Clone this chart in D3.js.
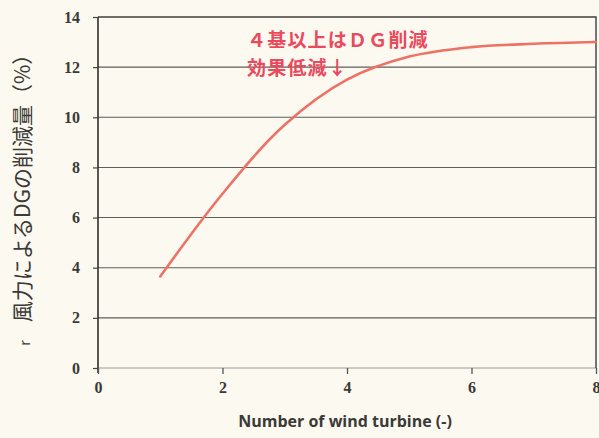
<!DOCTYPE html>
<html>
<head>
<meta charset="utf-8">
<script src="https://cdn.jsdelivr.net/npm/d3@7"></script>
<style>
  html, body { margin: 0; padding: 0; background: #fcf9f1; }
  svg { display: block; }
</style>
</head>
<body>
<svg id="chart" width="599" height="438"></svg>
<script>
// Number of wind turbines and the resulting DG reduction (%)
const turbines = [1, 2, 3, 4, 5, 6, 7, 8];
const reduction = [3.65, 6.95, 9.7, 11.5, 12.42, 12.8, 12.93, 13.0];
const xTicks = [0, 2, 4, 6, 8];
const yTicks = [0, 2, 4, 6, 8, 10, 12, 14];

const xTitle = "Number of wind turbine (-)";
const yTitle = "風力によるDGの削減量（%）";
const note = ["４基以上はＤＧ削減", "効果低減↓"];

const svg = d3.select("#chart");
const W = 599, H = 438;
const m = { left: 98, right: 3, top: 17, bottom: 70 };

svg.append("rect").attr("width", W).attr("height", H).attr("fill", "#fcf9f1");

const x = d3.scaleLinear().domain([0, 8]).range([m.left, W - m.right]);
const y = d3.scaleLinear().domain([0, 14]).range([H - m.bottom, m.top]);

const tickFont = "'Liberation Serif', 'DejaVu Serif', serif";

// horizontal gridlines
svg.append("g")
  .selectAll("line")
  .data(yTicks.filter(d => d > 0 && d < 14))
  .join("line")
  .attr("x1", x(0)).attr("x2", x(8))
  .attr("y1", d => y(d)).attr("y2", d => y(d))
  .attr("stroke", "#5e5e5a").attr("stroke-width", 1.1);

// bottom baseline (lighter)
svg.append("line")
  .attr("x1", x(0)).attr("x2", x(8))
  .attr("y1", y(0)).attr("y2", y(0))
  .attr("stroke", "#9a9a94").attr("stroke-width", 1);

// top and right frame
svg.append("path")
  .attr("d", `M${x(0)},${y(14)}H${x(8)}V${y(0)}`)
  .attr("fill", "none").attr("stroke", "#3e3e3a").attr("stroke-width", 1.4);

// y axis
const yAxis = svg.append("g")
  .attr("transform", `translate(${x(0)},0)`)
  .call(d3.axisLeft(y).tickValues(yTicks).tickSize(5).tickPadding(13).tickFormat(d3.format("d")));
yAxis.select(".domain").attr("stroke", "#2e2e2a").attr("stroke-width", 1.6)
  .attr("d", `M0,${y(14)}V${y(0) + 5}`);
yAxis.selectAll(".tick line").attr("stroke", "#444").attr("stroke-width", 1.2);
yAxis.selectAll(".tick text")
  .attr("font-family", tickFont).attr("font-weight", "bold")
  .attr("font-size", 16).attr("fill", "#3a3a36");

// x axis
const xAxis = svg.append("g")
  .attr("transform", `translate(0,${y(0)})`)
  .call(d3.axisBottom(x).tickValues(xTicks).tickSize(6).tickPadding(8).tickFormat(d3.format("d")));
xAxis.select(".domain").remove();
xAxis.selectAll(".tick line").attr("stroke", "#555").attr("stroke-width", 1.3);
xAxis.selectAll(".tick text")
  .attr("font-family", tickFont).attr("font-weight", "bold")
  .attr("font-size", 16).attr("fill", "#3a3a36");

// reduction curve
const line = d3.line()
  .x((d, i) => x(turbines[i]))
  .y(d => y(d))
  .curve(d3.curveCatmullRom.alpha(0.5));
svg.append("path")
  .datum(reduction)
  .attr("d", line)
  .attr("fill", "none")
  .attr("stroke", "#ee7264")
  .attr("stroke-width", 2.6)
  .attr("stroke-linecap", "round");

// annotation
svg.append("g")
  .selectAll("text")
  .data(note)
  .join("text")
  .attr("x", 247)
  .attr("y", (d, i) => 47 + i * 28)
  .attr("font-family", "'Noto Sans CJK JP', sans-serif")
  .attr("font-weight", "bold")
  .attr("font-size", 19)
  .attr("letter-spacing", 1.2)
  .attr("fill", "#ea4a5c")
  .text(d => d);

// axis titles
svg.append("text")
  .attr("x", (x(0) + x(8)) / 2 - 2)
  .attr("y", 427)
  .attr("text-anchor", "middle")
  .attr("font-family", "'Open Sans', sans-serif")
  .attr("font-weight", 700)
  .attr("font-size", 16)
  .attr("fill", "#3a3a36")
  .text(xTitle);

svg.append("text")
  .attr("transform", `translate(30,${183}) rotate(-90)`)
  .attr("text-anchor", "middle")
  .attr("font-family", "'Noto Sans CJK JP', sans-serif")
  .attr("font-size", 21)
  .attr("fill", "#3a3a36")
  .text(yTitle);

svg.append("text")
  .attr("transform", `translate(30,343) rotate(-90)`)
  .attr("text-anchor", "middle")
  .attr("font-family", "'Noto Sans CJK JP', sans-serif")
  .attr("font-size", 14)
  .attr("fill", "#3a3a36")
  .text("r");
</script>
</body>
</html>
